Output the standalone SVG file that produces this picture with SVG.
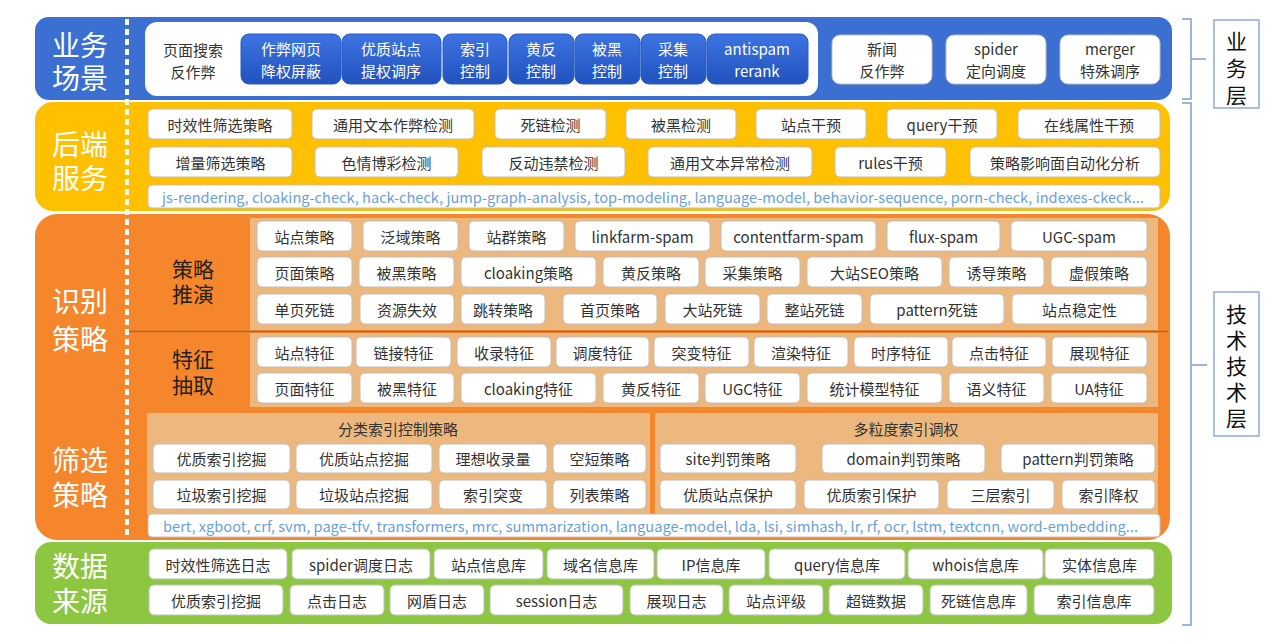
<svg xmlns="http://www.w3.org/2000/svg" width="1284" height="641" viewBox="0 0 1284 641">
<defs>
<linearGradient id="btnGrad" x1="0" y1="0" x2="0" y2="1">
<stop offset="0" stop-color="#3D74E2"/>
<stop offset="1" stop-color="#2152BE"/>
</linearGradient>
<style>
text{font-family:"Noto Sans CJK SC","Noto Sans",sans-serif;text-anchor:middle;dominant-baseline:central}
.box{fill:#fff;stroke:#bfbfbf;stroke-width:1}
.t{font-size:15px;fill:#333}
.bt{font-size:15px;fill:#fff}
.big{font-size:28px;fill:#fff}
.sub{font-size:21px;fill:#222}
.ttl{font-size:15px;fill:#333}
.btn{fill:url(#btnGrad);stroke:#2a5bc4;stroke-width:1}
.code{font-size:14px;fill:#6A9FD8;text-anchor:start}
.side{fill:#fff;stroke:#8EA9D8;stroke-width:1.5}
.st{font-size:21px;fill:#111;writing-mode:vertical-rl}
.br{fill:none;stroke:#7F9CCF;stroke-width:1.5}
</style>
</defs>
<rect width="1284" height="641" fill="#fff"/>

<!-- ===== Band backgrounds ===== -->
<g id="band-business">
<rect x="35" y="17" width="1137" height="83" rx="14" fill="#3B6FD1"/>
<text class="big" x="80" y="44">业务<tspan x="80" y="77">场景</tspan></text>
<rect x="145" y="22" width="673" height="74" rx="12" fill="#fff"/>
</g>
<g id="band-backend">
<rect x="35" y="102" width="1135" height="109" rx="18" fill="#FFC000"/>
<text class="big" x="80" y="143">后端<tspan x="80" y="177">服务</tspan></text>
</g>
<g id="band-strategy">
<rect x="35" y="214" width="1135" height="326" rx="22" fill="#F5862B"/>
<rect x="250" y="218" width="908" height="112" fill="#ECB87E"/>
<rect x="250" y="333" width="908" height="74" fill="#ECB87E"/>
<line x1="127" y1="331.5" x2="1168" y2="331.5" stroke="#A8693A" stroke-width="1.5"/>
<rect x="147" y="413" width="503" height="102" fill="#ECB87E"/>
<rect x="655" y="413" width="503" height="102" fill="#ECB87E"/>
<text class="big" x="80" y="300">识别<tspan x="80" y="338">策略</tspan></text>
<text class="sub" x="193" y="268">策略<tspan x="193" y="293">推演</tspan></text>
<text class="sub" x="193" y="358">特征<tspan x="193" y="384">抽取</tspan></text>
<text class="big" x="80" y="459">筛选<tspan x="80" y="494">策略</tspan></text>
<text class="ttl" x="398" y="428">分类索引控制策略</text>
<text class="ttl" x="906" y="428">多粒度索引调权</text>
</g>
<g id="band-data">
<rect x="35" y="542" width="1137" height="82" rx="16" fill="#8DC741"/>
<text class="big" x="80" y="565">数据<tspan x="80" y="600">来源</tspan></text>
</g>
<line id="divider" x1="127" y1="19" x2="127" y2="538" stroke="#fff" stroke-width="4" stroke-dasharray="6 4"/>

<!-- ===== Business row ===== -->
<g id="n-yemian"><text class="t" x="193" y="49">页面搜索<tspan x="193" y="71">反作弊</tspan></text></g>
<g id="n-zuobi"><rect class="btn" x="241" y="34" width="100" height="50" rx="8"/><text class="bt" x="291" y="48">作弊网页<tspan x="291" y="70">降权屏蔽</tspan></text></g>
<g id="n-youzhi"><rect class="btn" x="342" y="34" width="99" height="50" rx="8"/><text class="bt" x="391" y="48">优质站点<tspan x="391" y="70">提权调序</tspan></text></g>
<g id="n-suoyin"><rect class="btn" x="443" y="34" width="64" height="50" rx="8"/><text class="bt" x="475" y="48">索引<tspan x="475" y="70">控制</tspan></text></g>
<g id="n-huangfan"><rect class="btn" x="509" y="34" width="65" height="50" rx="8"/><text class="bt" x="541" y="48">黄反<tspan x="541" y="70">控制</tspan></text></g>
<g id="n-beihei"><rect class="btn" x="575" y="34" width="65" height="50" rx="8"/><text class="bt" x="607" y="48">被黑<tspan x="607" y="70">控制</tspan></text></g>
<g id="n-caiji"><rect class="btn" x="641" y="34" width="65" height="50" rx="8"/><text class="bt" x="673" y="48">采集<tspan x="673" y="70">控制</tspan></text></g>
<g id="n-antispam"><rect class="btn" x="707" y="34" width="101" height="50" rx="8"/><text class="bt" x="757" y="48">antispam<tspan x="757" y="70">rerank</tspan></text></g>
<g id="n-xinwen"><rect class="box" x="832" y="35" width="100" height="49" rx="8"/><text class="t" x="882" y="48">新闻<tspan x="882" y="70">反作弊</tspan></text></g>
<g id="n-spider"><rect class="box" x="946" y="35" width="100" height="49" rx="8"/><text class="t" x="996" y="48">spider<tspan x="996" y="70">定向调度</tspan></text></g>
<g id="n-merger"><rect class="box" x="1060" y="35" width="100" height="49" rx="8"/><text class="t" x="1110" y="48">merger<tspan x="1110" y="70">特殊调序</tspan></text></g>

<!-- ===== Backend rows ===== -->
<g id="b1"><rect class="box" x="148" y="109" width="144" height="30" rx="5"/><text class="t" x="220" y="124">时效性筛选策略</text></g>
<g id="b2"><rect class="box" x="312" y="109" width="162" height="30" rx="5"/><text class="t" x="393" y="124">通用文本作弊检测</text></g>
<g id="b3"><rect class="box" x="495" y="109" width="111" height="30" rx="5"/><text class="t" x="550.5" y="124">死链检测</text></g>
<g id="b4"><rect class="box" x="626" y="109" width="110" height="30" rx="5"/><text class="t" x="681" y="124">被黑检测</text></g>
<g id="b5"><rect class="box" x="756" y="109" width="110" height="30" rx="5"/><text class="t" x="811" y="124">站点干预</text></g>
<g id="b6"><rect class="box" x="887" y="109" width="110" height="30" rx="5"/><text class="t" x="942" y="124">query干预</text></g>
<g id="b7"><rect class="box" x="1018" y="109" width="142" height="30" rx="5"/><text class="t" x="1089" y="124">在线属性干预</text></g>
<g id="b8"><rect class="box" x="149" y="147" width="143" height="30" rx="5"/><text class="t" x="220.5" y="162">增量筛选策略</text></g>
<g id="b9"><rect class="box" x="315" y="147" width="143" height="30" rx="5"/><text class="t" x="386.5" y="162">色情博彩检测</text></g>
<g id="b10"><rect class="box" x="482" y="147" width="143" height="30" rx="5"/><text class="t" x="553.5" y="162">反动违禁检测</text></g>
<g id="b11"><rect class="box" x="648" y="147" width="164" height="30" rx="5"/><text class="t" x="730" y="162">通用文本异常检测</text></g>
<g id="b12"><rect class="box" x="835" y="147" width="111" height="30" rx="5"/><text class="t" x="890.5" y="162">rules干预</text></g>
<g id="b13"><rect class="box" x="970" y="147" width="190" height="30" rx="5"/><text class="t" x="1065" y="162">策略影响面自动化分析</text></g>
<g id="b-code"><rect class="box" x="148" y="185" width="1012" height="23" rx="4"/><text class="code" x="162" y="197" textLength="982" lengthAdjust="spacingAndGlyphs">js-rendering, cloaking-check, hack-check, jump-graph-analysis, top-modeling, language-model, behavior-sequence, porn-check, indexes-ckeck...</text></g>

<!-- ===== Strategy deduction rows ===== -->
<g id="s1"><rect class="box" x="257" y="221" width="95" height="30" rx="5"/><text class="t" x="304.5" y="236">站点策略</text></g>
<g id="s2"><rect class="box" x="363" y="221" width="95" height="30" rx="5"/><text class="t" x="410.5" y="236">泛域策略</text></g>
<g id="s3"><rect class="box" x="469" y="221" width="95" height="30" rx="5"/><text class="t" x="516.5" y="236">站群策略</text></g>
<g id="s4"><rect class="box" x="575" y="221" width="135" height="30" rx="5"/><text class="t" x="642.5" y="236">linkfarm-spam</text></g>
<g id="s5"><rect class="box" x="721" y="221" width="155" height="30" rx="5"/><text class="t" x="798.5" y="236">contentfarm-spam</text></g>
<g id="s6"><rect class="box" x="887" y="221" width="113" height="30" rx="5"/><text class="t" x="943.5" y="236">flux-spam</text></g>
<g id="s7"><rect class="box" x="1011" y="221" width="136" height="30" rx="5"/><text class="t" x="1079" y="236">UGC-spam</text></g>

<g id="s8"><rect class="box" x="257" y="257" width="95" height="30" rx="5"/><text class="t" x="304.5" y="272">页面策略</text></g>
<g id="s9"><rect class="box" x="359" y="257" width="95" height="30" rx="5"/><text class="t" x="406.5" y="272">被黑策略</text></g>
<g id="s10"><rect class="box" x="461" y="257" width="135" height="30" rx="5"/><text class="t" x="528.5" y="272">cloaking策略</text></g>
<g id="s11"><rect class="box" x="603" y="257" width="96" height="30" rx="5"/><text class="t" x="651" y="272">黄反策略</text></g>
<g id="s12"><rect class="box" x="705" y="257" width="95" height="30" rx="5"/><text class="t" x="752.5" y="272">采集策略</text></g>
<g id="s13"><rect class="box" x="807" y="257" width="135" height="30" rx="5"/><text class="t" x="874.5" y="272">大站SEO策略</text></g>
<g id="s14"><rect class="box" x="949" y="257" width="95" height="30" rx="5"/><text class="t" x="996.5" y="272">诱导策略</text></g>
<g id="s15"><rect class="box" x="1051" y="257" width="96" height="30" rx="5"/><text class="t" x="1099" y="272">虚假策略</text></g>

<g id="s16"><rect class="box" x="257" y="294" width="95" height="30" rx="5"/><text class="t" x="304.5" y="309">单页死链</text></g>
<g id="s17"><rect class="box" x="360" y="294" width="94" height="30" rx="5"/><text class="t" x="407" y="309">资源失效</text></g>
<g id="s18"><rect class="box" x="461" y="294" width="84" height="30" rx="5"/><text class="t" x="503" y="309">跳转策略</text></g>
<g id="s19"><rect class="box" x="563" y="294" width="94" height="30" rx="5"/><text class="t" x="610" y="309">首页策略</text></g>
<g id="s20"><rect class="box" x="665" y="294" width="95" height="30" rx="5"/><text class="t" x="712.5" y="309">大站死链</text></g>
<g id="s21"><rect class="box" x="767" y="294" width="95" height="30" rx="5"/><text class="t" x="814.5" y="309">整站死链</text></g>
<g id="s22"><rect class="box" x="870" y="294" width="134" height="30" rx="5"/><text class="t" x="937" y="309">pattern死链</text></g>
<g id="s23"><rect class="box" x="1012" y="294" width="135" height="30" rx="5"/><text class="t" x="1079.5" y="309">站点稳定性</text></g>

<!-- ===== Feature rows ===== -->
<g id="f1"><rect class="box" x="257" y="337" width="95" height="30" rx="5"/><text class="t" x="304.5" y="352">站点特征</text></g>
<g id="f2"><rect class="box" x="356" y="337" width="95" height="30" rx="5"/><text class="t" x="403.5" y="352">链接特征</text></g>
<g id="f3"><rect class="box" x="457" y="337" width="94" height="30" rx="5"/><text class="t" x="504" y="352">收录特征</text></g>
<g id="f4"><rect class="box" x="556" y="337" width="93" height="30" rx="5"/><text class="t" x="602.5" y="352">调度特征</text></g>
<g id="f5"><rect class="box" x="654" y="337" width="95" height="30" rx="5"/><text class="t" x="701.5" y="352">突变特征</text></g>
<g id="f6"><rect class="box" x="754" y="337" width="94" height="30" rx="5"/><text class="t" x="801" y="352">渲染特征</text></g>
<g id="f7"><rect class="box" x="854" y="337" width="94" height="30" rx="5"/><text class="t" x="901" y="352">时序特征</text></g>
<g id="f8"><rect class="box" x="952" y="337" width="94" height="30" rx="5"/><text class="t" x="999" y="352">点击特征</text></g>
<g id="f9"><rect class="box" x="1052" y="337" width="95" height="30" rx="5"/><text class="t" x="1099.5" y="352">展现特征</text></g>

<g id="f10"><rect class="box" x="257" y="373" width="95" height="30" rx="5"/><text class="t" x="304.5" y="388">页面特征</text></g>
<g id="f11"><rect class="box" x="360" y="373" width="94" height="30" rx="5"/><text class="t" x="407" y="388">被黑特征</text></g>
<g id="f12"><rect class="box" x="461" y="373" width="135" height="30" rx="5"/><text class="t" x="528.5" y="388">cloaking特征</text></g>
<g id="f13"><rect class="box" x="603" y="373" width="96" height="30" rx="5"/><text class="t" x="651" y="388">黄反特征</text></g>
<g id="f14"><rect class="box" x="705" y="373" width="95" height="30" rx="5"/><text class="t" x="752.5" y="388">UGC特征</text></g>
<g id="f15"><rect class="box" x="807" y="373" width="135" height="30" rx="5"/><text class="t" x="874.5" y="388">统计模型特征</text></g>
<g id="f16"><rect class="box" x="949" y="373" width="95" height="30" rx="5"/><text class="t" x="996.5" y="388">语义特征</text></g>
<g id="f17"><rect class="box" x="1051" y="373" width="96" height="30" rx="5"/><text class="t" x="1099" y="388">UA特征</text></g>

<!-- ===== Filter strategy ===== -->
<g id="c1"><rect class="box" x="153" y="444" width="137" height="29" rx="5"/><text class="t" x="221.5" y="458.5">优质索引挖掘</text></g>
<g id="c2"><rect class="box" x="296" y="444" width="136" height="29" rx="5"/><text class="t" x="364" y="458.5">优质站点挖掘</text></g>
<g id="c3"><rect class="box" x="439" y="444" width="108" height="29" rx="5"/><text class="t" x="493" y="458.5">理想收录量</text></g>
<g id="c4"><rect class="box" x="553" y="444" width="93" height="29" rx="5"/><text class="t" x="599.5" y="458.5">空短策略</text></g>
<g id="c5"><rect class="box" x="153" y="480" width="137" height="29" rx="5"/><text class="t" x="221.5" y="494.5">垃圾索引挖掘</text></g>
<g id="c6"><rect class="box" x="296" y="480" width="136" height="29" rx="5"/><text class="t" x="364" y="494.5">垃圾站点挖掘</text></g>
<g id="c7"><rect class="box" x="439" y="480" width="108" height="29" rx="5"/><text class="t" x="493" y="494.5">索引突变</text></g>
<g id="c8"><rect class="box" x="553" y="480" width="93" height="29" rx="5"/><text class="t" x="599.5" y="494.5">列表策略</text></g>

<g id="d1"><rect class="box" x="660" y="444" width="136" height="29" rx="5"/><text class="t" x="728" y="458.5">site判罚策略</text></g>
<g id="d2"><rect class="box" x="822" y="444" width="163" height="29" rx="5"/><text class="t" x="903.5" y="458.5">domain判罚策略</text></g>
<g id="d3"><rect class="box" x="1001" y="444" width="154" height="29" rx="5"/><text class="t" x="1078" y="458.5">pattern判罚策略</text></g>
<g id="d4"><rect class="box" x="660" y="480" width="136" height="29" rx="5"/><text class="t" x="728" y="494.5">优质站点保护</text></g>
<g id="d5"><rect class="box" x="804" y="480" width="135" height="29" rx="5"/><text class="t" x="871.5" y="494.5">优质索引保护</text></g>
<g id="d6"><rect class="box" x="947" y="480" width="107" height="29" rx="5"/><text class="t" x="1000.5" y="494.5">三层索引</text></g>
<g id="d7"><rect class="box" x="1062" y="480" width="93" height="29" rx="5"/><text class="t" x="1108.5" y="494.5">索引降权</text></g>
<g id="d-code"><rect class="box" x="148" y="514" width="1012" height="23" rx="4"/><text class="code" x="163" y="525.5" textLength="975" lengthAdjust="spacingAndGlyphs">bert, xgboot, crf, svm, page-tfv, transformers, mrc, summarization, language-model, lda, lsi, simhash, lr, rf, ocr, lstm, textcnn, word-embedding...</text></g>

<!-- ===== Data sources ===== -->
<g id="g1"><rect class="box" x="149" y="549" width="138" height="30" rx="5"/><text class="t" x="218" y="564">时效性筛选日志</text></g>
<g id="g2"><rect class="box" x="292" y="549" width="138" height="30" rx="5"/><text class="t" x="361" y="564">spider调度日志</text></g>
<g id="g3"><rect class="box" x="434" y="549" width="109" height="30" rx="5"/><text class="t" x="488.5" y="564">站点信息库</text></g>
<g id="g4"><rect class="box" x="547" y="549" width="107" height="30" rx="5"/><text class="t" x="600.5" y="564">域名信息库</text></g>
<g id="g5"><rect class="box" x="657" y="549" width="108" height="30" rx="5"/><text class="t" x="711" y="564">IP信息库</text></g>
<g id="g6"><rect class="box" x="769" y="549" width="136" height="30" rx="5"/><text class="t" x="837" y="564">query信息库</text></g>
<g id="g7"><rect class="box" x="908" y="549" width="135" height="30" rx="5"/><text class="t" x="975.5" y="564">whois信息库</text></g>
<g id="g8"><rect class="box" x="1045" y="549" width="109" height="30" rx="5"/><text class="t" x="1099.5" y="564">实体信息库</text></g>

<g id="g9"><rect class="box" x="149" y="585" width="134" height="30" rx="5"/><text class="t" x="216" y="600">优质索引挖掘</text></g>
<g id="g10"><rect class="box" x="290" y="585" width="94" height="30" rx="5"/><text class="t" x="337" y="600">点击日志</text></g>
<g id="g11"><rect class="box" x="390" y="585" width="94" height="30" rx="5"/><text class="t" x="437" y="600">网盾日志</text></g>
<g id="g12"><rect class="box" x="490" y="585" width="133" height="30" rx="5"/><text class="t" x="556.5" y="600">session日志</text></g>
<g id="g13"><rect class="box" x="630" y="585" width="93" height="30" rx="5"/><text class="t" x="676.5" y="600">展现日志</text></g>
<g id="g14"><rect class="box" x="729" y="585" width="94" height="30" rx="5"/><text class="t" x="776" y="600">站点评级</text></g>
<g id="g15"><rect class="box" x="829" y="585" width="94" height="30" rx="5"/><text class="t" x="876" y="600">超链数据</text></g>
<g id="g16"><rect class="box" x="930" y="585" width="97" height="30" rx="5"/><text class="t" x="978.5" y="600">死链信息库</text></g>
<g id="g17"><rect class="box" x="1034" y="585" width="120" height="30" rx="5"/><text class="t" x="1094" y="600">索引信息库</text></g>

<!-- ===== Side layer labels ===== -->
<g id="layer-business"><rect class="side" x="1214" y="20" width="45" height="88"/><text class="st" x="1236.5" y="71" letter-spacing="6">业务层</text></g>
<g id="layer-tech"><rect class="side" x="1214" y="292" width="45" height="144"/><text class="st" x="1236.5" y="369" letter-spacing="5">技术技术层</text></g>

<g id="connectors">
<path class="br" d="M1182,19 H1191 V99 H1182 M1191,59 H1206"/>
<path class="br" d="M1182,103 H1191 V625 H1182 M1191,365 H1207"/>
</g>
</svg>
